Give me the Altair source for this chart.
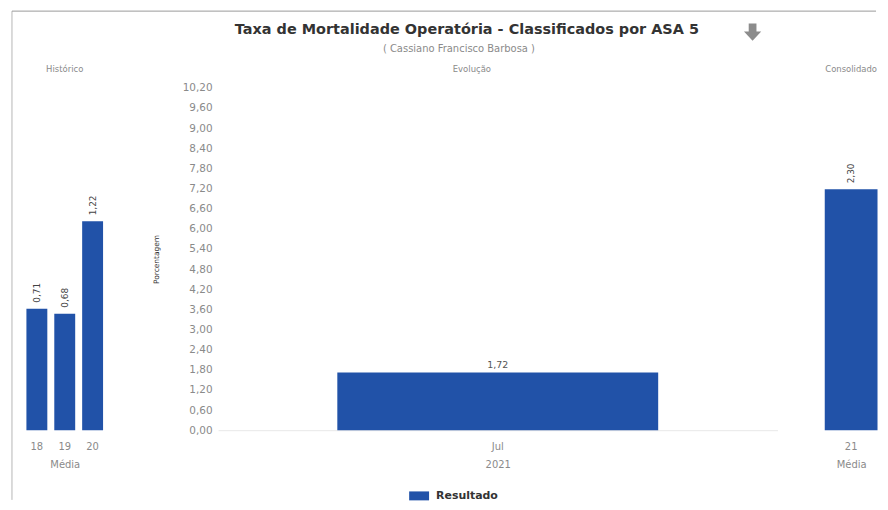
import altair as alt
import pandas as pd

# ---- data ----
hist_years = ["18", "19", "20"]
hist_values = [0.71, 0.68, 1.22]

evo_months = ["Jul"]
evo_values = [1.72]
evo_series = ["Resultado"]

cons_years = ["21"]
cons_values = [2.30]

y_ticks = [0.0, 0.6, 1.2, 1.8, 2.4, 3.0, 3.6, 4.2, 4.8, 5.4, 6.0, 6.6, 7.2, 7.8, 8.4, 9.0, 9.6, 10.2]

main_title = ["Taxa de Mortalidade Operatória - Classificados por ASA 5"]
sub_title = ["( Cassiano Francisco Barbosa )"]
panel_titles = ["Histórico", "Evolução", "Consolidado"]

BLUE = "#2152a8"
GREY = "#8a8a8a"
FONT = "DejaVu Sans"
H = 344

fmt = "replace(format(datum.v, '.2f'), '.', ',')"

hist_df = pd.DataFrame({"ano": hist_years, "v": hist_values})
evo_df = pd.DataFrame({"mes": evo_months, "v": evo_values, "serie": evo_series})
cons_df = pd.DataFrame({"ano": cons_years, "v": cons_values})


def x_axis():
    return alt.Axis(labelAngle=0, ticks=False, domain=False, labelPadding=11,
                    titlePadding=8, labelColor=GREY, titleColor=GREY,
                    labelFontSize=10, titleFontSize=10, titleFontWeight="normal",
                    labelFont=FONT, titleFont=FONT)


def side_panel(df, title, width, pin, pout, ymax):
    base = alt.Chart(df).transform_calculate(lbl=fmt).encode(
        x=alt.X("ano:N", title="Média",
                scale=alt.Scale(paddingInner=pin, paddingOuter=pout),
                axis=x_axis()),
        y=alt.Y("v:Q", scale=alt.Scale(domain=[0, ymax], nice=False), axis=None),
    )
    bars = base.mark_bar(color=BLUE)
    txt = base.mark_text(angle=270, align="left", baseline="middle", dx=6,
                         fontSize=9, color="#444", font=FONT).encode(text="lbl:N")
    return (bars + txt).properties(
        width=width, height=H,
        title=alt.TitleParams(title, fontSize=8.5, color=GREY, fontWeight="normal",
                              font=FONT, offset=14, frame="group"))


left = side_panel(hist_df, panel_titles[0], 84, 0.25, 0.125, 2.0)
right = side_panel(cons_df, panel_titles[2], 58, 0.045, 0.045, 3.27)

spacer = alt.Chart(hist_df).mark_point(opacity=0).encode(
    x=alt.X("ano:N", axis=None), y=alt.Y("v:Q", axis=None)
).properties(width=22, height=H)

evo_base = alt.Chart(evo_df).transform_calculate(lbl=fmt).encode(
    x=alt.X("mes:N", title="2021",
            scale=alt.Scale(paddingInner=0.271, paddingOuter=0.271),
            axis=alt.Axis(labelAngle=0, ticks=False, domain=True, domainColor="#e8e8e8",
                          labelPadding=11, titlePadding=8, labelColor=GREY, titleColor=GREY,
                          labelFontSize=10, titleFontSize=10, titleFontWeight="normal",
                          labelFont=FONT, titleFont=FONT)),
    y=alt.Y("v:Q", title="Porcentagem",
            scale=alt.Scale(domain=[0, 10.2], nice=False),
            axis=alt.Axis(values=y_ticks, labelExpr="replace(format(datum.value, '.2f'), '.', ',')",
                          ticks=False, domain=False, grid=False, labelPadding=6,
                          labelColor=GREY, labelFontSize=10.5, labelFont=FONT,
                          titleColor="#333", titleFontSize=7.5, titleFontWeight="normal",
                          titleFont=FONT, titlePadding=22)),
)
evo_bars = evo_base.mark_bar().encode(
    color=alt.Color("serie:N", scale=alt.Scale(domain=evo_series, range=[BLUE]),
                    legend=alt.Legend(title=None, orient="none", legendX=388, legendY=400,
                                      symbolType="M-1,-0.45H1V0.45H-1Z", symbolSize=400,
                                      labelFont=FONT, labelFontWeight="bold",
                                      labelFontSize=11, labelColor="#333", symbolOpacity=1,
                                      symbolStrokeWidth=0, labelOffset=7))
)
evo_txt = evo_base.mark_text(baseline="bottom", dy=-2, fontSize=9.5, color="#555",
                             font=FONT).encode(text="lbl:N")

t_df = pd.DataFrame({"t": main_title})
s_df = pd.DataFrame({"t": sub_title})
p_df = pd.DataFrame({"t": [panel_titles[1]]})

title_mark = alt.Chart(t_df).mark_text(fontSize=14.5, fontWeight="bold", font=FONT,
                                       color="#333", align="center", baseline="middle"
                                       ).encode(text="t:N", x=alt.value(250), y=alt.value(-58))
sub_mark = alt.Chart(s_df).mark_text(fontSize=10, font=FONT, color=GREY, align="center",
                                     baseline="middle"
                                     ).encode(text="t:N", x=alt.value(242), y=alt.value(-39))
evo_title = alt.Chart(p_df).mark_text(fontSize=8.5, font=FONT, color=GREY, align="center",
                                      baseline="middle"
                                      ).encode(text="t:N", x=alt.value(255), y=alt.value(-19))
arrow = alt.Chart(t_df).mark_point(
    shape="M-0.45,-1H0.45V-0.05H1L0,1L-1,-0.05H-0.45Z", filled=True, color="#8c8c8c",
    size=300, opacity=1
).encode(x=alt.value(537), y=alt.value(-56))

frame_left = alt.Chart(t_df).mark_rule(color="#b5b5b5", strokeWidth=1).encode(
    x=alt.value(-207), y=alt.value(-77), y2=alt.value(414))
frame_top = alt.Chart(t_df).mark_rule(color="#9a9a9a", strokeWidth=1).encode(
    x=alt.value(-207), x2=alt.value(661), y=alt.value(-77))

middle = alt.layer(evo_bars, evo_txt, title_mark, sub_mark, evo_title, arrow,
                   frame_left, frame_top).properties(width=562, height=H)

chart = alt.hconcat(left, spacer, middle, right, spacing=45, bounds="flush").properties(
    padding={"left": 3, "top": 1, "right": 0, "bottom": 0},
).configure_view(stroke=None)

chart.save("out.html", embed_options={"renderer": "svg", "actions": False})
